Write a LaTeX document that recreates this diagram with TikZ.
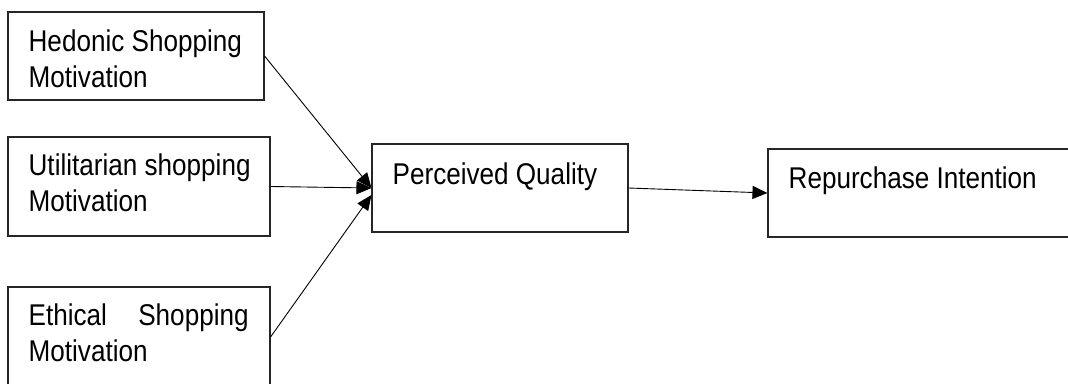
\documentclass[tikz,border=0pt]{standalone}
\usepackage{fontspec}
\setmainfont{Liberation Sans}[FakeStretch=0.87]
\usetikzlibrary{arrows.meta,calc}
\begin{document}
\begin{tikzpicture}[x=1pt,y=-1pt,
  box/.style={draw=black!85,line width=1.1pt,rectangle,inner sep=0pt},
  txt/.style={anchor=base west,inner sep=0pt,font=\fontsize{30}{36}\selectfont},
  arr/.style={draw=black,line width=0.9pt,-{Triangle[length=15pt,width=13pt]}}]
\path[use as bounding box] (0,0) rectangle (1068,383);
\clip (0,0) rectangle (1068,383);
% boxes
\node[box,minimum width=256pt,minimum height=88pt] (hed) at (136,56) {};
\node[box,minimum width=262pt,minimum height=99pt] (uti) at (139,186.5) {};
\node[box,minimum width=262pt,minimum height=100pt] (eth) at (139,337) {};
\node[box,minimum width=256pt,minimum height=88pt] (pq) at (500,188) {};
\node[box,minimum width=342pt,minimum height=88pt] (ri) at (939,193) {};
% texts
\node[txt] (hed1) at ($(hed.north west)+(21,40)$) {Hedonic Shopping};
\node[txt] (hed2) at ($(hed.north west)+(21,76)$) {Motivation};
\node[txt] (uti1) at ($(uti.north west)+(21,39)$) {Utilitarian shopping};
\node[txt] (uti2) at ($(uti.north west)+(21,75)$) {Motivation};
\node[txt] (eth1) at ($(eth.north west)+(21,39)$) {\makebox[220pt][s]{Ethical\hfill Shopping}};
\node[txt] (eth2) at ($(eth.north west)+(21,75)$) {Motivation};
\node[txt] (pqt) at ($(pq.north west)+(21,41)$) {Perceived Quality};
\node[txt] (rit) at ($(ri.north west)+(21,40)$) {Repurchase Intention};
% arrows
\draw[arr] (hed.east) -- (pq.west);
\draw[arr] (uti.east) -- (pq.west);
\draw[arr] (eth.east) -- ($(pq.west)+(0,7)$);
\draw[arr] (pq.east) -- (ri.west);
\end{tikzpicture}
\end{document}
